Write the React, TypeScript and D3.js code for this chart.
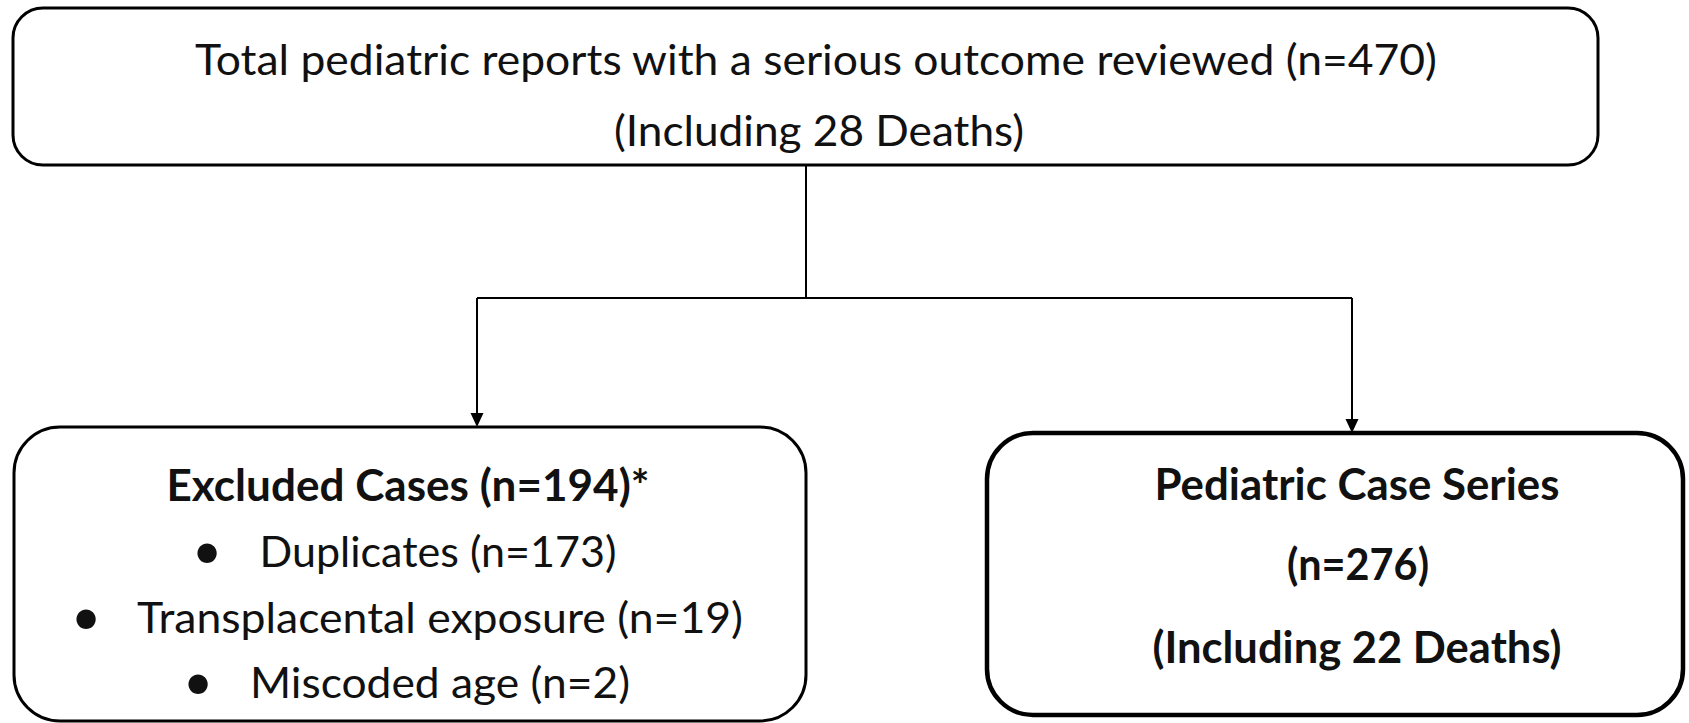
import React from "react";
import * as d3 from "d3";

// ---- content ----
const topLines = [
  "Total pediatric reports with a serious outcome reviewed (n=470)",
  "(Including 28 Deaths)",
];
const excludedTitle = "Excluded Cases (n=194)*";
const excludedItems = [
  "Duplicates (n=173)",
  "Transplacental exposure (n=19)",
  "Miscoded age (n=2)",
];
const seriesLines = ["Pediatric Case Series", "(n=276)", "(Including 22 Deaths)"];

// ---- layout ----
const W = 1689;
const H = 723;
const FONT = "Lato, 'Open Sans', 'Noto Sans', sans-serif";
const FS = 43;

const boxes = {
  top: { x: 13, y: 8, w: 1585, h: 157, r: 30, sw: 3 },
  left: { x: 14, y: 427, w: 792, h: 294, r: 46, sw: 3 },
  right: { x: 987, y: 433, w: 696, h: 282, r: 46, sw: 4.5 },
};

const topText = [
  { cx: 816, y: 75, w: 1242 },
  { cx: 819, y: 146, w: 410 },
];
const exclTitlePos = { cx: 408, y: 501, w: 483 };
const exclItemPos = [
  { cx: 438, y: 567, w: 357, bx: 207 },
  { cx: 440, y: 633, w: 606, bx: 86 },
  { cx: 440, y: 698, w: 380, bx: 198 },
];
const seriesPos = [
  { cx: 1357, y: 500, w: 405 },
  { cx: 1358, y: 580, w: 142 },
  { cx: 1357, y: 663, w: 409 },
];

const trunkX = 806;
const branchY = 298;
const leftArrowX = 477;
const rightArrowX = 1352;

function Box({ b }: { b: { x: number; y: number; w: number; h: number; r: number; sw: number } }) {
  return (
    <rect
      x={b.x}
      y={b.y}
      width={b.w}
      height={b.h}
      rx={b.r}
      ry={b.r}
      fill="#fff"
      stroke="#000"
      strokeWidth={b.sw}
    />
  );
}

function Arrow({ x, y0, y1 }: { x: number; y0: number; y1: number }) {
  const p = d3.path();
  p.moveTo(x, y0);
  p.lineTo(x, y1 - 12);
  const head = d3.path();
  head.moveTo(x - 6.5, y1 - 14);
  head.lineTo(x + 6.5, y1 - 14);
  head.lineTo(x, y1);
  head.closePath();
  return (
    <g>
      <path d={p.toString()} stroke="#000" strokeWidth={2} fill="none" />
      <path d={head.toString()} fill="#000" />
    </g>
  );
}

export default function App() {
  const conn = d3.path();
  conn.moveTo(trunkX, boxes.top.y + boxes.top.h);
  conn.lineTo(trunkX, branchY);
  conn.moveTo(leftArrowX, branchY);
  conn.lineTo(rightArrowX, branchY);

  return (
    <svg
      width={W}
      height={H}
      viewBox={`0 0 ${W} ${H}`}
      style={{ position: "absolute", left: 0, top: 0, display: "block", background: "#fff" }}
      fontFamily={FONT}
    >
      <rect x={0} y={0} width={W} height={H} fill="#fff" />
      <Box b={boxes.top} />
      <Box b={boxes.left} />
      <Box b={boxes.right} />

      <path d={conn.toString()} stroke="#000" strokeWidth={2} fill="none" />
      <Arrow x={leftArrowX} y0={branchY} y1={boxes.left.y} />
      <Arrow x={rightArrowX} y0={branchY} y1={boxes.right.y} />

      {topLines.map((t, i) => (
        <text
          key={t}
          x={topText[i].cx}
          y={topText[i].y}
          textAnchor="middle"
          fontSize={FS}
          fill="#111"
          textLength={topText[i].w}
          lengthAdjust="spacingAndGlyphs"
        >
          {t}
        </text>
      ))}

      <text
        x={exclTitlePos.cx}
        y={exclTitlePos.y}
        textAnchor="middle"
        fontSize={FS}
        fontWeight={700}
        fill="#111"
        textLength={exclTitlePos.w}
        lengthAdjust="spacingAndGlyphs"
      >
        {excludedTitle}
      </text>

      {excludedItems.map((t, i) => (
        <g key={t}>
          <text
            x={exclItemPos[i].bx}
            y={exclItemPos[i].y + 2}
            textAnchor="middle"
            fontSize={52}
            fill="#111"
          >
            {"•"}
          </text>
          <text
            x={exclItemPos[i].cx}
            y={exclItemPos[i].y}
            textAnchor="middle"
            fontSize={FS}
            fill="#111"
            textLength={exclItemPos[i].w}
            lengthAdjust="spacingAndGlyphs"
          >
            {t}
          </text>
        </g>
      ))}

      {seriesLines.map((t, i) => (
        <text
          key={t}
          x={seriesPos[i].cx}
          y={seriesPos[i].y}
          textAnchor="middle"
          fontSize={FS}
          fontWeight={700}
          fill="#111"
          textLength={seriesPos[i].w}
          lengthAdjust="spacingAndGlyphs"
        >
          {t}
        </text>
      ))}
    </svg>
  );
}
